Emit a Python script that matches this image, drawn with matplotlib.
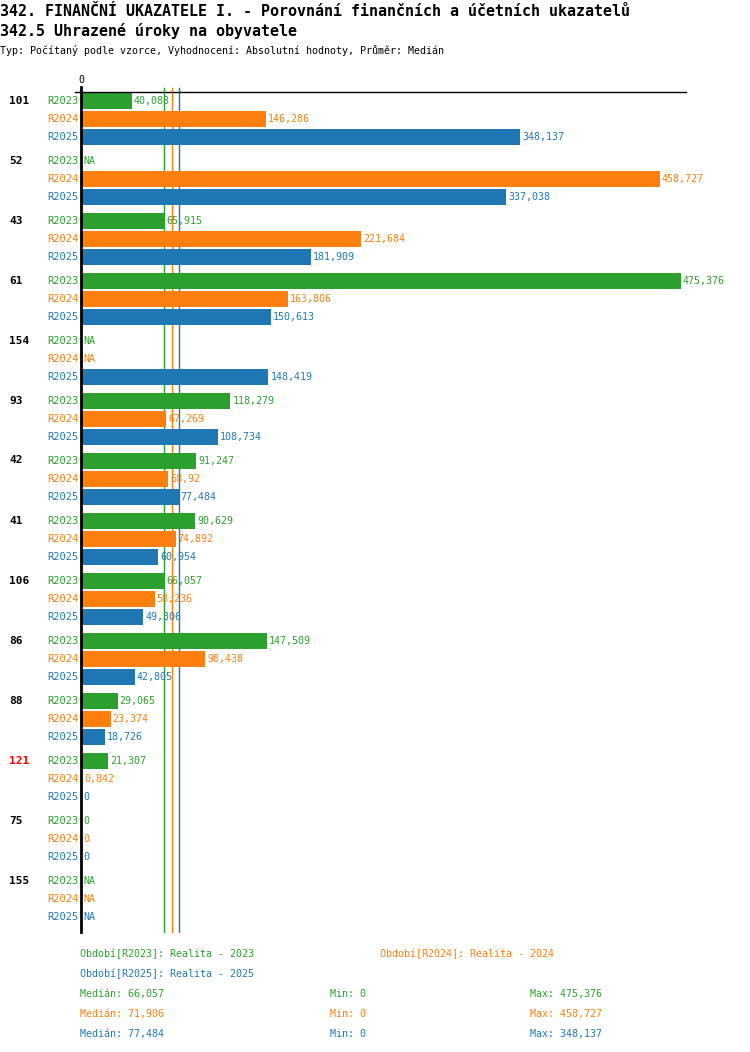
import numpy as np
import matplotlib
matplotlib.use("Agg")
import matplotlib.pyplot as plt
from matplotlib import transforms

groups = ["101", "52", "43", "61", "154", "93", "42", "41", "106", "86", "88", "121", "75", "155"]
group_colors = ["black"] * 11 + ["red"] + ["black"] * 2
series = ["R2023", "R2024", "R2025"]
colors = ["#2ca02c", "#ff7f0e", "#1f77b4"]
NA = None
r2023 = [40.088, NA, 65.915, 475.376, NA, 118.279, 91.247, 90.629, 66.057, 147.509, 29.065, 21.307, 0, NA]
r2024 = [146.286, 458.727, 221.684, 163.806, NA, 67.269, 68.92, 74.892, 58.236, 98.438, 23.374, 0.842, 0, NA]
r2025 = [348.137, 337.038, 181.909, 150.613, 148.419, 108.734, 77.484, 60.954, 49.306, 42.805, 18.726, 0, 0, NA]
data = [r2023, r2024, r2025]
legend_names = ["Realita - 2023", "Realita - 2024", "Realita - 2025"]

title1 = "342. FINANČNÍ UKAZATELE I. - Porovnání finančních a účetních ukazatelů"
title2 = "342.5 Uhrazené úroky na obyvatele"
subtitle = "Typ: Počítaný podle vzorce, Vyhodnocení: Absolutní hodnoty, Průměr: Medián"


def fmt(v):
    if v is None:
        return "NA"
    s = f"{v:.3f}".rstrip("0").rstrip(".")
    return s.replace(".", ",")


W, H = 750, 1052
fig = plt.figure(figsize=(W / 100, H / 100), dpi=100)
mono = "DejaVu Sans Mono"

x0, x1 = 81, 686
ytop, ybot = 85, 935
ax = fig.add_axes([x0 / W, 1 - ybot / H, (x1 - x0) / W, (ybot - ytop) / H])
ax.set_xlim(0, 479.3)
ax.set_ylim(ybot, ytop)
ax.axis("off")

fx = lambda px: px / W
fy = lambda py: 1 - py / H

# title
fig.text(fx(0), fy(15.5), title1, family=mono, fontsize=10.8, fontweight="bold", va="baseline", ha="left")
fig.text(fx(0), fy(36), title2, family=mono, fontsize=10.8, fontweight="bold", va="baseline", ha="left")
fig.text(fx(0), fy(50), subtitle, family=mono, fontsize=7.2, va="center", ha="left")

blend = transforms.blended_transform_factory(fig.transFigure, ax.transData)

# medians
medians = [float(np.median([v for v in s if v is not None])) for s in data]
for m, c in zip(medians, colors):
    ax.plot([m, m], [88, 932], color=c, lw=1, zorder=1)

# axis lines
ax.plot([0, 0], [87, 932], color="black", lw=2, zorder=4, clip_on=False)
ax.plot([-6 / 1.2622, 479.3], [92, 92], color="black", lw=1, zorder=4, clip_on=False)
ax.text(0, 80, "0", family=mono, fontsize=7.2, ha="center", va="center")

for g, name in enumerate(groups):
    base = 100.5 + 60 * g
    fig.text(fx(9), fy(base), name, family=mono, fontsize=8, fontweight="bold",
             color=group_colors[g], ha="left", va="center")
    for r in range(3):
        y = base + 18 * r
        v = data[r][g]
        ax.text(fx(78), y, series[r], transform=blend, family=mono, fontsize=7.5,
                color=colors[r], ha="right", va="center")
        if v is not None and v > 0:
            ax.barh(y, v, height=16, color=colors[r], zorder=2)
        ax.annotate(fmt(v), xy=(v if v is not None else 0, y), xytext=(2, 0),
                    textcoords="offset pixels", family=mono, fontsize=7.2,
                    color=colors[r], ha="left", va="center", zorder=3)

# legend
def ftext(px, py, s, c):
    fig.text(fx(px), fy(py), s, family=mono, fontsize=7.2, color=c, ha="left", va="center")

ftext(80, 954, f"Období[{series[0]}]: {legend_names[0]}", colors[0])
ftext(380, 954, f"Období[{series[1]}]: {legend_names[1]}", colors[1])
ftext(80, 974, f"Období[{series[2]}]: {legend_names[2]}", colors[2])
for i in range(3):
    vals = [v for v in data[i] if v is not None]
    yy = 994 + 20 * i
    ftext(80, yy, f"Medián: {fmt(medians[i])}", colors[i])
    ftext(330, yy, f"Min: {fmt(min(vals))}", colors[i])
    ftext(530, yy, f"Max: {fmt(max(vals))}", colors[i])

fig.savefig("out.png", dpi=100)
